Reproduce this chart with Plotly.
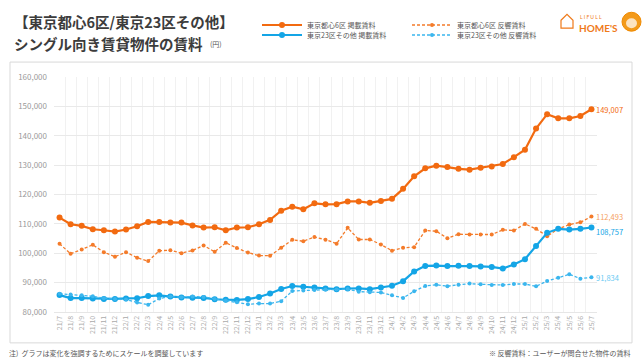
import plotly.graph_objects as go

months = ["21/7", "21/8", "21/9", "21/10", "21/11", "21/12",
          "22/1", "22/2", "22/3", "22/4", "22/5", "22/6", "22/7", "22/8", "22/9", "22/10", "22/11", "22/12",
          "23/1", "23/2", "23/3", "23/4", "23/5", "23/6", "23/7", "23/8", "23/9", "23/10", "23/11", "23/12",
          "24/1", "24/2", "24/3", "24/4", "24/5", "24/6", "24/7", "24/8", "24/9", "24/10", "24/11", "24/12",
          "25/1", "25/2", "25/3", "25/4", "25/5", "25/6", "25/7"]

central_listed = [112140, 109860, 109320, 108170, 107830, 107390,
                  108070, 109190, 110680, 110680, 110440, 110440, 109480, 108750, 108850, 107830, 108750, 108850,
                  109860, 111360, 114510, 115860, 114950, 116980, 116640, 116700, 117650, 117650, 117170, 117760,
                  118520, 121920, 126200, 128900, 129800, 129320, 128750, 128460, 129080, 129530, 130390, 132710,
                  135240, 142470, 147340, 145930, 145930, 146710, 149007]

central_inquiry = [103220, 99830, 101290, 102880, 100370, 98810,
                   100370, 98470, 97320, 100850, 101050, 100030, 100950, 102640, 100500, 103560, 101800, 100220,
                   99200, 99150, 101860, 104580, 104100, 105520, 104630, 103270, 108640, 104680, 104680, 102980,
                   100850, 101860, 102070, 107730, 107490, 105120, 106470, 106420, 106370, 106370, 107970, 107730,
                   110000, 108310, 105800, 108310, 109760, 110540, 112493]

other_listed = [85760, 84730, 84730, 84630, 84440, 84440,
                84630, 84680, 85410, 85690, 85240, 84920, 84850, 84780, 84340, 84170, 84100, 84390,
                85120, 86270, 87830, 88850, 88580, 88310, 88020, 87780, 88000, 88020, 87780, 88360,
                88920, 90490, 93780, 95700, 95810, 95630, 95750, 95630, 95530, 95360, 94800, 96200,
                98000, 102470, 106950, 108310, 108070, 108310, 108757]

other_inquiry = [86200, 85930, 85690, 85360, 84680, 84440,
                 84240, 83270, 82470, 84580, 85300, 85000, 85300, 85120, 84440, 83900, 83320, 82640,
                 82880, 82880, 83660, 87150, 87290, 87490, 87630, 87630, 87800, 86930, 86760, 86660,
                 85690, 84780, 87050, 88850, 89260, 88800, 89260, 89660, 89420, 89200, 89200, 89530,
                 89530, 88750, 90540, 91690, 92810, 91360, 91834]

names = ["東京都心6区 掲載賃料", "東京都心6区 反響賃料", "東京23区その他 掲載賃料", "東京23区その他 反響賃料"]

FONT = "Noto Sans CJK JP, sans-serif"
ORANGE = "#F26A10"
ORANGE_D = "#F47B2A"
BLUE = "#14A5E6"
BLUE_D = "#3BB6EE"

W, H = 642, 361
ML, MR, MT, MB = 54, 45, 76, 49
PW = W - ML - MR
PH = H - MT - MB


def px(x):
    return (x - ML) / PW


def py(y):
    return (H - MB - y) / PH


fig = go.Figure()

series = [
    (central_listed, names[0], ORANGE, "solid", 2.2, 6, "legend"),
    (central_inquiry, names[1], ORANGE_D, "3px,2px", 1.3, 4, "legend2"),
    (other_listed, names[2], BLUE, "solid", 2.2, 6, "legend3"),
    (other_inquiry, names[3], BLUE_D, "3px,2px", 1.3, 4, "legend4"),
]
for vals, name, col, dash, lw, ms, lg in series:
    fig.add_trace(go.Scatter(
        x=months, y=vals, name=name, mode="lines+markers",
        line=dict(color=col, width=lw, dash=dash),
        marker=dict(color=col, size=ms),
        legend=lg,
    ))

legend_common = dict(font=dict(family=FONT, size=7, color="#555555"),
                     bgcolor="rgba(0,0,0,0)", xanchor="left", yanchor="middle",
                     itemwidth=40, itemclick=False)
fig.update_layout(
    legend=dict(x=px(257), y=py(25), **legend_common),
    legend2=dict(x=px(407), y=py(25), **legend_common),
    legend3=dict(x=px(257), y=py(35), **legend_common),
    legend4=dict(x=px(407), y=py(35), **legend_common),
)

fig.update_layout(
    width=W, height=H,
    margin=dict(l=ML, r=MR, t=MT, b=MB),
    paper_bgcolor="white", plot_bgcolor="white",
    font=dict(family=FONT),
    showlegend=True,
    xaxis=dict(type="category", range=[-0.5, len(months) - 0.5],
               tickangle=-90, tickfont=dict(size=7, color="#aaaaaa", family=FONT),
               showgrid=True, gridcolor="#f1f1f1", gridwidth=1, tickson="boundaries",
               ticks="", showline=True, linecolor="#e6e6e6", zeroline=False),
    yaxis=dict(range=[80000, 160000], dtick=10000, tickformat=",",
               tickfont=dict(size=8, color="#9a9a9a", family=FONT),
               showgrid=True, gridcolor="#e9e9e9", gridwidth=1, zeroline=False,
               ticks="", ticklabelstandoff=6),
)

# frame
fig.add_shape(type="rect", xref="paper", yref="paper",
              x0=px(10), x1=px(632), y0=py(343), y1=py(61),
              line=dict(color="#d9d9d9", width=1), layer="below")

ann = []
ann.append(dict(x=px(12), y=py(20), text="<b>【東京都心6区/東京23区その他】</b>",
                font=dict(size=14.5, color="#3c3c3c", family=FONT)))
ann.append(dict(x=px(12), y=py(42), text="<b>シングル向き賃貸物件の賃料</b>",
                font=dict(size=14.5, color="#3c3c3c", family=FONT)))
ann.append(dict(x=px(208), y=py(43), text="(円)",
                font=dict(size=7, color="#555555", family=FONT)))
ann.append(dict(x=px(7), y=py(353), text="注)  グラフは変化を強調するためにスケールを調整しています",
                font=dict(size=7, color="#555555", family=FONT)))
ann.append(dict(x=px(632), y=py(353), xanchor="right", text="※ 反響賃料：ユーザーが問合せた物件の賃料",
                font=dict(size=7, color="#555555", family=FONT)))
# logo
ann.append(dict(x=px(578), y=py(16), text="L I F U L L",
                font=dict(size=5, color="#EF7A1A", family="Lato, sans-serif")))
ann.append(dict(x=px(577), y=py(27), text="<b>HOME'S</b>",
                font=dict(size=10, color="#EF7A1A", family="Lato, sans-serif")))
for a in ann:
    a.setdefault("xanchor", "left")
    a.update(xref="paper", yref="paper", yanchor="middle", showarrow=False)
    fig.add_annotation(**a)

# house icon
fig.add_shape(type="path", xref="paper", yref="paper",
              path=f"M {px(561)},{py(19)} L {px(567)},{py(13)} L {px(573)},{py(19)} L {px(573)},{py(27)} L {px(561)},{py(27)} Z",
              line=dict(color="#EF7A1A", width=1.2), fillcolor="rgba(0,0,0,0)")
fig.add_shape(type="circle", xref="paper", yref="paper",
              x0=px(622), x1=px(641), y0=py(30), y1=py(11),
              line=dict(color="#F08A00", width=1), fillcolor="#F39A1A")
fig.add_shape(type="circle", xref="paper", yref="paper",
              x0=px(626), x1=px(637), y0=py(27), y1=py(17),
              line=dict(width=0), fillcolor="#FCE3C0")

# end labels
end_labels = [
    (central_listed[-1], ORANGE, 0),
    (central_inquiry[-1], "#F5A060", 0),
    (other_listed[-1], BLUE, -4),
    (other_inquiry[-1], "#6CCBF3", 0),
]
for v, col, ys in end_labels:
    fig.add_annotation(x=months[-1], y=v, xref="x", yref="y", text=f"{v:,}",
                       showarrow=False, xanchor="left", yanchor="middle", xshift=3, yshift=ys,
                       font=dict(size=7.5, color=col, family=FONT))

fig.write_html("out.html", config={"displayModeBar": False},
               post_script="document.body.style.margin='0';")
